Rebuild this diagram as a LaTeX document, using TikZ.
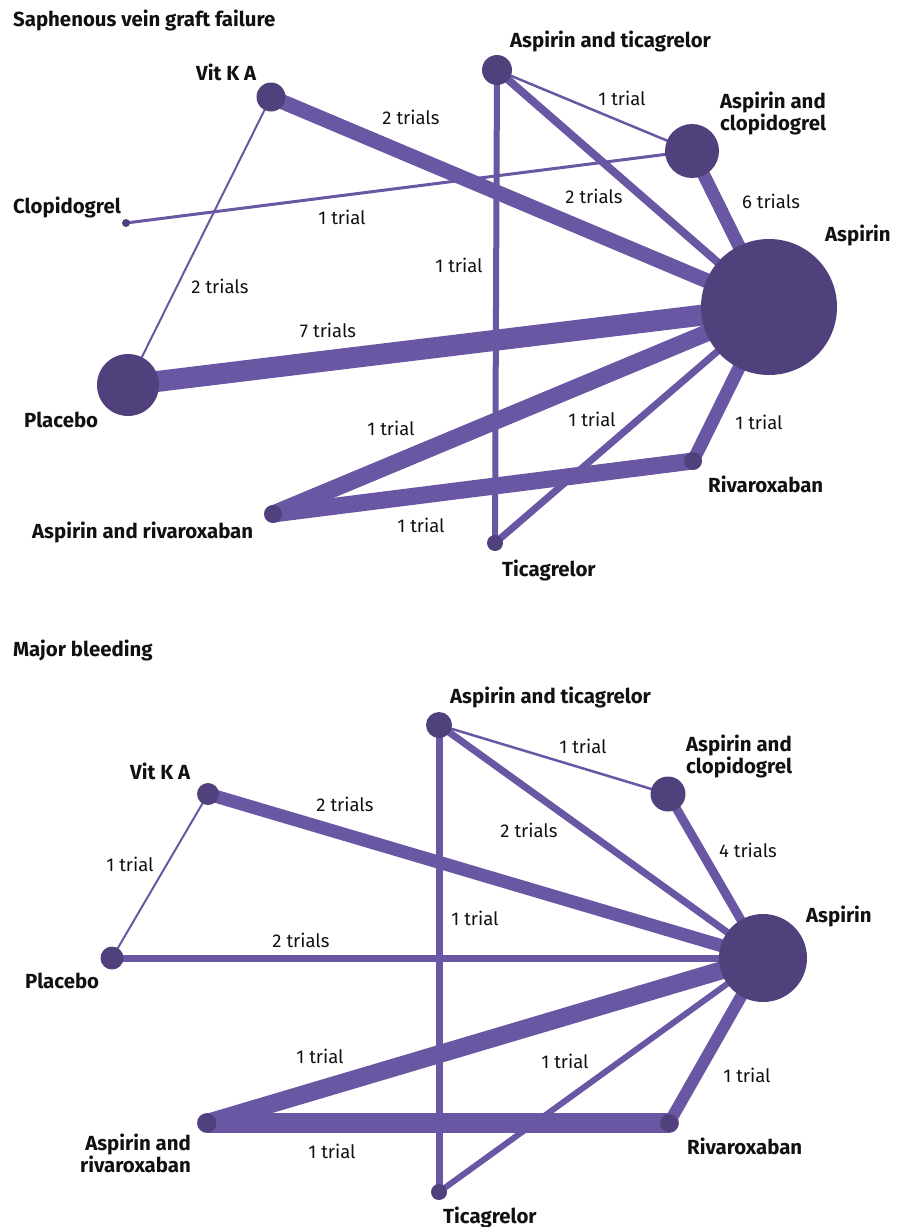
\documentclass[tikz,border=0pt]{standalone}
\usepackage{fontspec}
\setmainfont{Fira Sans}
\pgfdeclarelayer{background}
\pgfsetlayers{background,main}
\definecolor{edgec}{HTML}{6A57A3}
\definecolor{nodec}{HTML}{50417D}
\definecolor{txt}{HTML}{111111}
\tikzset{
  gnode/.style={circle, fill=nodec, inner sep=0pt, minimum size=#1},
  link/.style={draw=edgec, line width=#1, line cap=round},
  lbl/.style={font=\fontsize{18.5}{22}\selectfont, text=txt, anchor=base, inner sep=0pt},
  nm/.style={font=\fontsize{20.4}{21.5}\selectfont\bfseries, text=txt, anchor=base west, inner sep=0pt, align=left},
}
\begin{document}
\begin{tikzpicture}[x=1pt,y=-1pt]
\useasboundingbox (0,0) rectangle (898,1227);
% ---------- Top: Saphenous vein graft failure ----------
\node[nm] (t1) at (13,26) {Saphenous vein graft failure};
\node[gnode=29] (VKA1) at (271,97) {};
\node[gnode=30] (AT1) at (497,70) {};
\node[gnode=54] (AC1) at (692,151) {};
\node[gnode=136] (ASP1) at (769,307) {};
\node[gnode=8] (CL1) at (126,223) {};
\node[gnode=62] (PL1) at (128,385) {};
\node[gnode=18] (AR1) at (273,514) {};
\node[gnode=18] (RV1) at (693,461) {};
\node[gnode=16] (TI1) at (495,543) {};
\begin{pgfonlayer}{background}
\draw[link=15] (VKA1.center) -- (ASP1.center);
\draw[link=2] (VKA1.center) -- (PL1.center);
\draw[link=3] (CL1.center) -- (AC1.center);
\draw[link=2.5] (AT1.center) -- (AC1.center);
\draw[link=8] (AT1.center) -- (ASP1.center);
\draw[link=6] (AT1.center) -- (TI1.center);
\draw[link=13] (AC1.center) -- (ASP1.center);
\draw[link=21] (PL1.center) -- (ASP1.center);
\draw[link=17] (AR1.center) -- (ASP1.center);
\draw[link=17] (AR1.center) -- (RV1.center);
\draw[link=7] (ASP1.center) -- (TI1.center);
\draw[link=13] (ASP1.center) -- (RV1.center);
\end{pgfonlayer}
\node[lbl] (l1) at (411,124) {2 trials};
\node[lbl] (l2) at (220,293) {2 trials};
\node[lbl] (l3) at (342,224) {1 trial};
\node[lbl] (l4) at (622,105) {1 trial};
\node[lbl] (l5) at (594,203) {2 trials};
\node[lbl] (l6) at (459,272) {1 trial};
\node[lbl] (l7) at (771,208) {6 trials};
\node[lbl] (l8) at (328,337) {7 trials};
\node[lbl] (l9) at (391,435) {1 trial};
\node[lbl] (l10) at (421,532) {1 trial};
\node[lbl] (l11) at (592,426) {1 trial};
\node[lbl] (l12) at (759,429) {1 trial};
\node[nm] (n1) at (196,80) {Vit K A};
\node[nm] (n2) at (510,47) {Aspirin and ticagrelor};
\node[nm] (n3) at (720,130) {Aspirin and\\clopidogrel};
\node[nm] (n4) at (13,213) {Clopidogrel};
\node[nm] (n5) at (825,241) {Aspirin};
\node[nm] (n6) at (24,427) {Placebo};
\node[nm] (n7) at (32,538) {Aspirin and rivaroxaban};
\node[nm] (n8) at (708,492) {Rivaroxaban};
\node[nm] (n9) at (502,576) {Ticagrelor};
% ---------- Bottom: Major bleeding ----------
\node[nm] (t2) at (13,656) {Major bleeding};
\node[gnode=22] (VKA2) at (208,794) {};
\node[gnode=26] (AT2) at (439,725) {};
\node[gnode=35] (AC2) at (668,794) {};
\node[gnode=88] (ASP2) at (763,958) {};
\node[gnode=23] (PL2) at (112,958) {};
\node[gnode=19] (AR2) at (207,1123) {};
\node[gnode=18] (RV2) at (669,1123) {};
\node[gnode=16] (TI2) at (439,1192) {};
\begin{pgfonlayer}{background}
\draw[link=13] (VKA2.center) -- (ASP2.center);
\draw[link=2] (VKA2.center) -- (PL2.center);
\draw[link=2.5] (AT2.center) -- (AC2.center);
\draw[link=7] (AT2.center) -- (ASP2.center);
\draw[link=7] (AT2.center) -- (TI2.center);
\draw[link=9] (AC2.center) -- (ASP2.center);
\draw[link=7] (PL2.center) -- (ASP2.center);
\draw[link=18] (AR2.center) -- (ASP2.center);
\draw[link=20] (AR2.center) -- (RV2.center);
\draw[link=6] (ASP2.center) -- (TI2.center);
\draw[link=12] (ASP2.center) -- (RV2.center);
\end{pgfonlayer}
\node[lbl] (m1) at (345,811) {2 trials};
\node[lbl] (m2) at (130,871) {1 trial};
\node[lbl] (m3) at (583,753) {1 trial};
\node[lbl] (m4) at (529,837) {2 trials};
\node[lbl] (m5) at (475,925) {1 trial};
\node[lbl] (m6) at (748,857) {4 trials};
\node[lbl] (m7) at (301,947) {2 trials};
\node[lbl] (m8) at (320,1063) {1 trial};
\node[lbl] (m9) at (332,1158) {1 trial};
\node[lbl] (m10) at (565,1068) {1 trial};
\node[lbl] (m11) at (747,1082) {1 trial};
\node[nm] (p1) at (130,779) {Vit K A};
\node[nm] (p2) at (450,703) {Aspirin and ticagrelor};
\node[nm] (p3) at (686,773) {Aspirin and\\clopidogrel};
\node[nm] (p4) at (806,922) {Aspirin};
\node[nm] (p5) at (25,988) {Placebo};
\node[nm, anchor=base east, align=right] (p6) at (191,1172) {Aspirin and\\rivaroxaban};
\node[nm] (p7) at (687,1154) {Rivaroxaban};
\node[nm] (p8) at (443,1223) {Ticagrelor};
\end{tikzpicture}
\end{document}
